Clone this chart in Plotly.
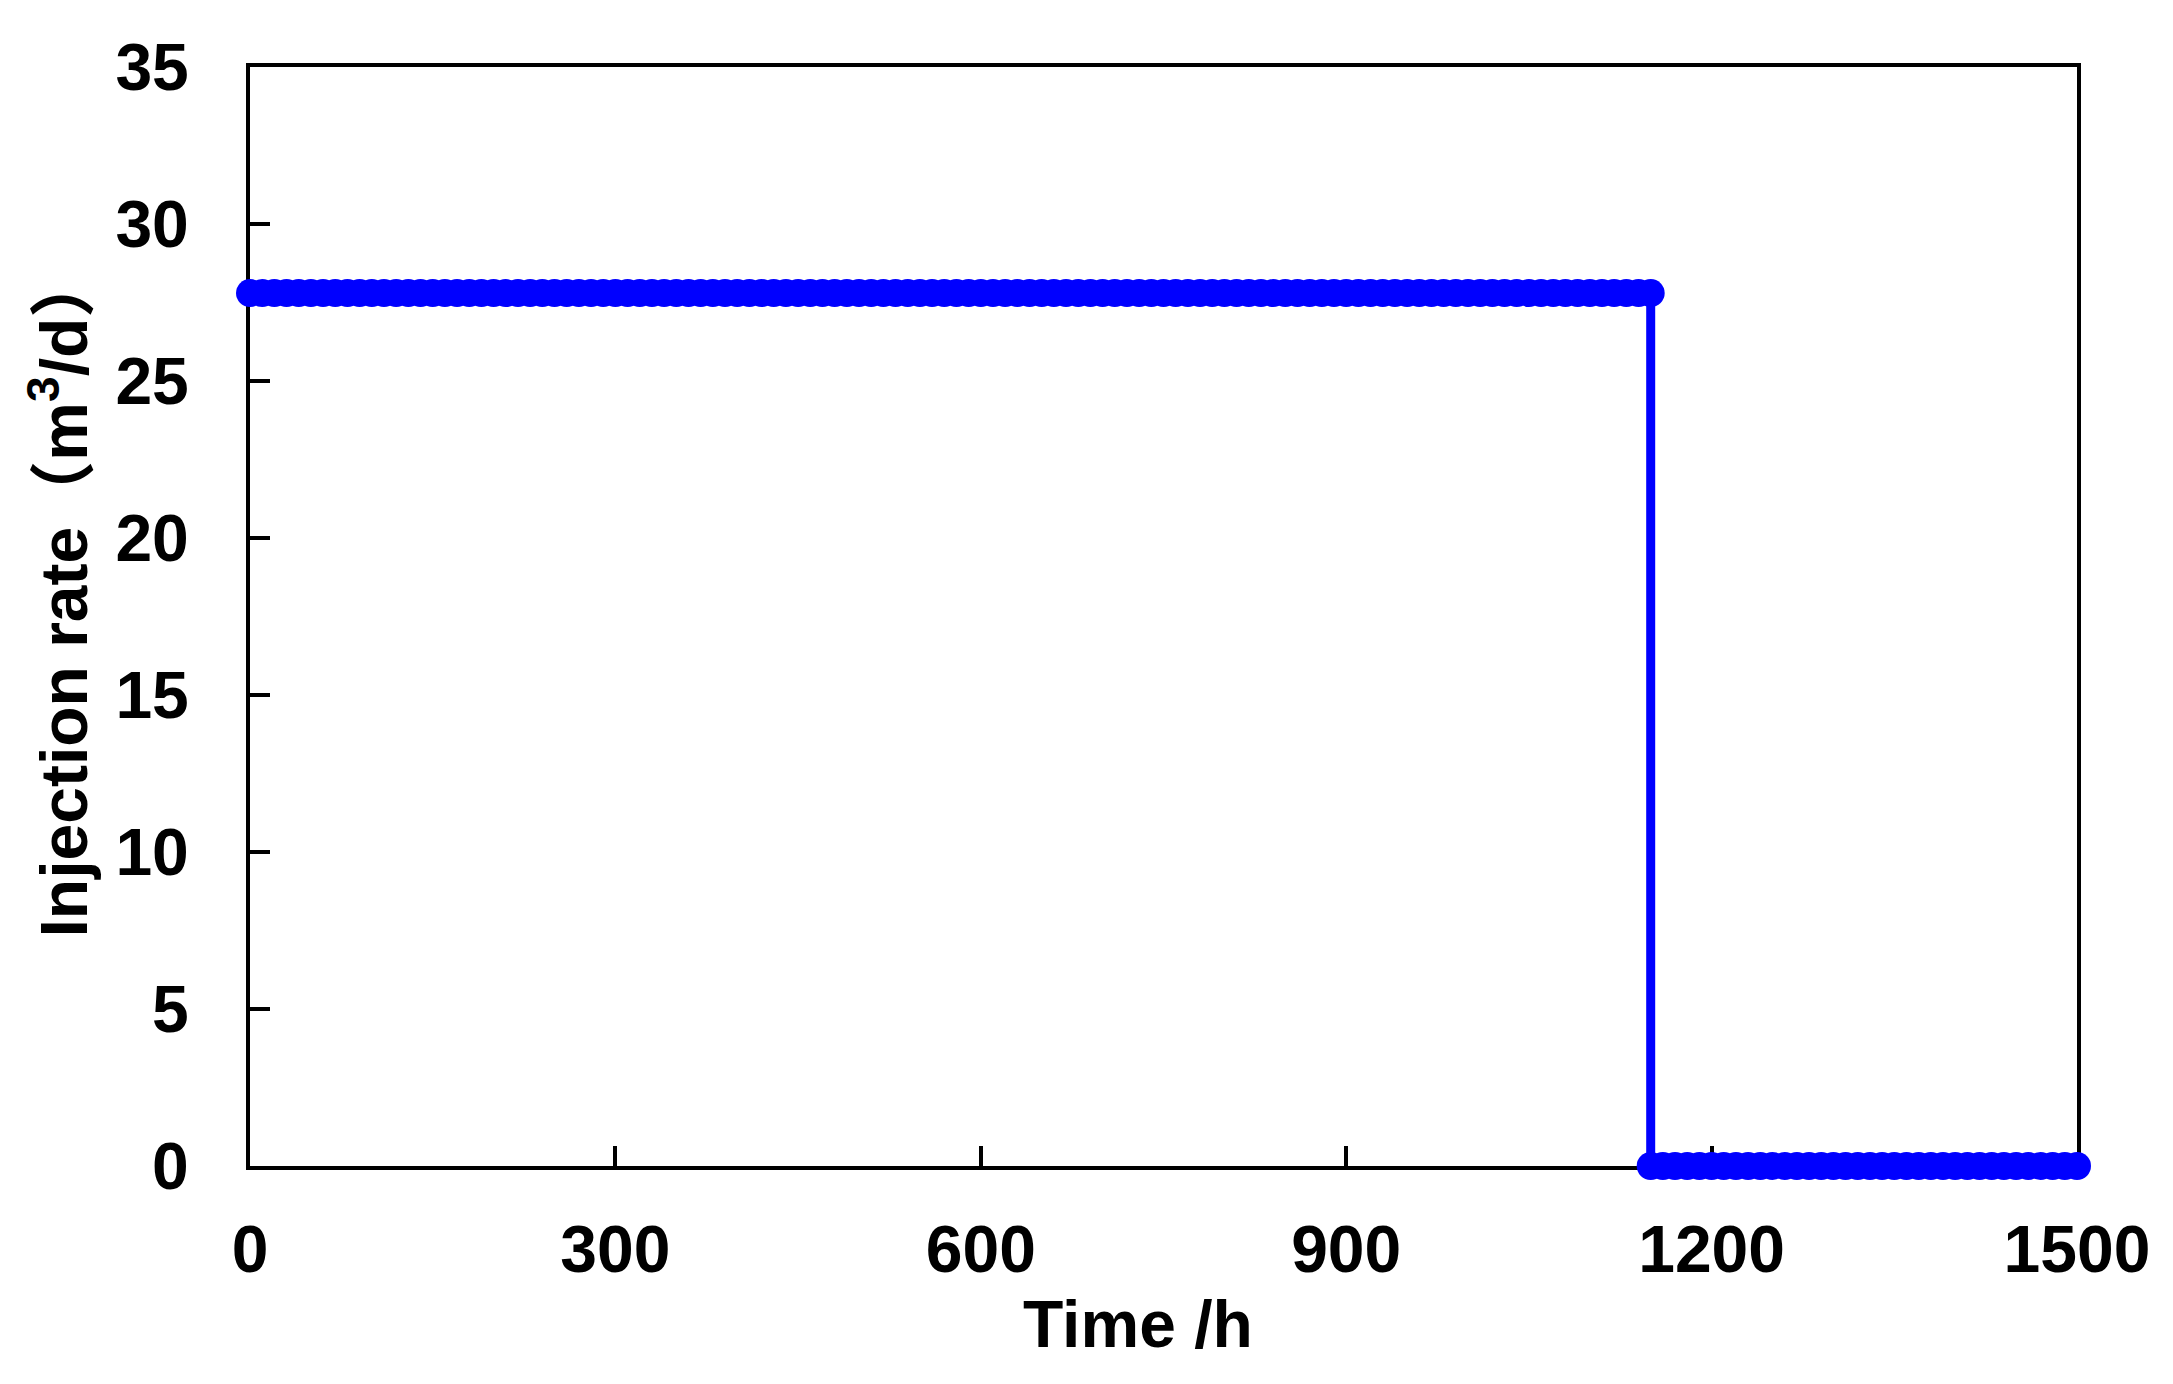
import plotly.graph_objects as go

# Injection period: sampled every 10 h, then the shut-in period
time_h = [
    0, 10, 20, 30, 40, 50, 60, 70, 80, 90, 100, 110, 120, 130, 140, 150, 160, 170, 180, 190,
    200, 210, 220, 230, 240, 250, 260, 270, 280, 290, 300, 310, 320, 330, 340, 350, 360, 370, 380, 390,
    400, 410, 420, 430, 440, 450, 460, 470, 480, 490, 500, 510, 520, 530, 540, 550, 560, 570, 580, 590,
    600, 610, 620, 630, 640, 650, 660, 670, 680, 690, 700, 710, 720, 730, 740, 750, 760, 770, 780, 790,
    800, 810, 820, 830, 840, 850, 860, 870, 880, 890, 900, 910, 920, 930, 940, 950, 960, 970, 980, 990,
    1000, 1010, 1020, 1030, 1040, 1050, 1060, 1070, 1080, 1090, 1100, 1110, 1120, 1130, 1140, 1150,
    1150, 1160, 1170, 1180, 1190, 1200, 1210, 1220, 1230, 1240, 1250, 1260, 1270, 1280, 1290, 1300,
    1310, 1320, 1330, 1340, 1350, 1360, 1370, 1380, 1390, 1400, 1410, 1420, 1430, 1440, 1450, 1460,
    1470, 1480, 1490, 1500,
]
injection_rate = [
    27.8, 27.8, 27.8, 27.8, 27.8, 27.8, 27.8, 27.8, 27.8, 27.8, 27.8, 27.8, 27.8, 27.8, 27.8, 27.8, 27.8, 27.8, 27.8, 27.8,
    27.8, 27.8, 27.8, 27.8, 27.8, 27.8, 27.8, 27.8, 27.8, 27.8, 27.8, 27.8, 27.8, 27.8, 27.8, 27.8, 27.8, 27.8, 27.8, 27.8,
    27.8, 27.8, 27.8, 27.8, 27.8, 27.8, 27.8, 27.8, 27.8, 27.8, 27.8, 27.8, 27.8, 27.8, 27.8, 27.8, 27.8, 27.8, 27.8, 27.8,
    27.8, 27.8, 27.8, 27.8, 27.8, 27.8, 27.8, 27.8, 27.8, 27.8, 27.8, 27.8, 27.8, 27.8, 27.8, 27.8, 27.8, 27.8, 27.8, 27.8,
    27.8, 27.8, 27.8, 27.8, 27.8, 27.8, 27.8, 27.8, 27.8, 27.8, 27.8, 27.8, 27.8, 27.8, 27.8, 27.8, 27.8, 27.8, 27.8, 27.8,
    27.8, 27.8, 27.8, 27.8, 27.8, 27.8, 27.8, 27.8, 27.8, 27.8, 27.8, 27.8, 27.8, 27.8, 27.8, 27.8,
    0, 0, 0, 0, 0, 0, 0, 0, 0, 0, 0, 0, 0, 0, 0, 0,
    0, 0, 0, 0, 0, 0, 0, 0, 0, 0, 0, 0, 0, 0, 0, 0,
    0, 0, 0, 0,
]

x_ticks = [0, 300, 600, 900, 1200, 1500]
y_ticks = [0, 5, 10, 15, 20, 25, 30, 35]

FONT = "Arial, 'Liberation Sans', 'Noto Sans CJK SC', sans-serif"
BLUE = "#0000FF"

fig = go.Figure()
fig.add_trace(go.Scatter(
    x=time_h,
    y=injection_rate,
    mode="lines+markers",
    line=dict(color=BLUE, width=9),
    marker=dict(color=BLUE, size=28, line=dict(width=0)),
    cliponaxis=False,
    showlegend=False,
))

axis_style = dict(
    showline=True,
    linecolor="black",
    linewidth=4,
    mirror=True,
    ticks="inside",
    ticklen=20,
    tickwidth=4,
    tickcolor="black",
    showgrid=False,
    zeroline=False,
    layer="below traces",
    tickfont=dict(family=FONT, size=66, color="black", weight="bold"),
)

fig.update_xaxes(axis_style, range=[0, 1500], tickvals=x_ticks, ticklabelstandoff=23)
fig.update_yaxes(axis_style, range=[0, 35], tickvals=y_ticks, ticklabelstandoff=44)

# page body adds a small offset, so the figure is sized a bit smaller
fig.update_layout(
    width=2157,
    height=1368,
    margin=dict(l=242, r=88, t=59, b=210),
    plot_bgcolor="white",
    paper_bgcolor="white",
    font=dict(family=FONT, color="black"),
    annotations=[
        dict(
            text="<b>Time /h</b>",
            xref="paper", yref="paper",
            x=0.4863, y=0, xanchor="center", yanchor="middle",
            yshift=-158, showarrow=False,
            font=dict(family=FONT, size=66, color="black"),
        ),
        dict(
            text="<b>Injection rate（m<sup>3</sup>/d）</b>",
            xref="paper", yref="paper",
            x=0, y=0.5, xanchor="center", yanchor="middle",
            xshift=-191, yshift=22, textangle=-90, showarrow=False,
            font=dict(family=FONT, size=66, color="black"),
        ),
    ],
)

fig.write_html("out.html")
